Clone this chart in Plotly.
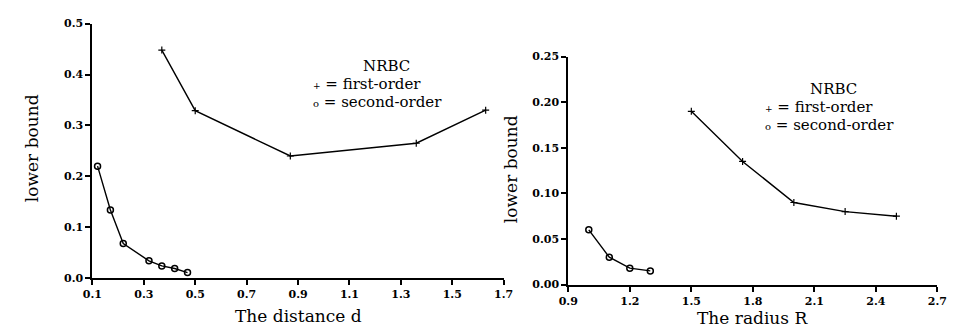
import plotly.graph_objects as go

# Left panel: lower bound vs distance d
d_first = [0.37, 0.50, 0.87, 1.36, 1.63]
lb_d_first = [0.448, 0.329, 0.240, 0.265, 0.330]
d_second = [0.12, 0.17, 0.22, 0.32, 0.37, 0.42, 0.47]
lb_d_second = [0.220, 0.134, 0.068, 0.034, 0.024, 0.019, 0.011]

# Right panel: lower bound vs radius R
r_first = [1.5, 1.75, 2.0, 2.25, 2.5]
lb_r_first = [0.190, 0.135, 0.090, 0.080, 0.075]
r_second = [1.0, 1.1, 1.2, 1.3]
lb_r_second = [0.060, 0.030, 0.018, 0.015]

left_xticks = [0.1, 0.3, 0.5, 0.7, 0.9, 1.1, 1.3, 1.5, 1.7]
left_yticks = [0.0, 0.1, 0.2, 0.3, 0.4, 0.5]
right_xticks = [0.9, 1.2, 1.5, 1.8, 2.1, 2.4, 2.7]
right_yticks = [0.00, 0.05, 0.10, 0.15, 0.20, 0.25]

SERIF = "DejaVu Serif"
W, H = 959, 330

fig = go.Figure()
line = dict(color="black", width=1.4)
plus = dict(symbol="cross-thin", size=5, line=dict(color="black", width=1.2))
ring = dict(symbol="circle-open", size=6, line=dict(color="black", width=1.5))
fig.add_trace(go.Scatter(x=d_first, y=lb_d_first, mode="lines+markers", line=line, marker=plus,
                         xaxis="x", yaxis="y", showlegend=False))
fig.add_trace(go.Scatter(x=d_second, y=lb_d_second, mode="lines+markers", line=line, marker=ring,
                         xaxis="x", yaxis="y", showlegend=False))
fig.add_trace(go.Scatter(x=r_first, y=lb_r_first, mode="lines+markers", line=line, marker=plus,
                         xaxis="x2", yaxis="y2", showlegend=False))
fig.add_trace(go.Scatter(x=r_second, y=lb_r_second, mode="lines+markers", line=line, marker=ring,
                         xaxis="x2", yaxis="y2", showlegend=False))

tickfont = dict(family=SERIF, size=11, color="black", weight="bold")
axcommon = dict(showgrid=False, zeroline=False, showline=True, linecolor="black", linewidth=2,
                ticks="outside", ticklen=5, tickwidth=1.5, tickcolor="black", tickfont=tickfont)

fig.update_layout(
    width=W, height=H,
    margin=dict(l=0, r=0, t=0, b=0),
    paper_bgcolor="white", plot_bgcolor="white",
    xaxis=dict(domain=[76 / W, 496 / W], range=[0.1, 1.7], tickvals=left_xticks,
               ticktext=[f"{v:.1f}" for v in left_xticks], anchor="y", **axcommon),
    yaxis=dict(domain=[(H - 275) / H, (H - 10) / H], range=[0, 0.5], tickvals=left_yticks,
               ticktext=[f"{v:.1f}" for v in left_yticks], anchor="x", **axcommon),
    xaxis2=dict(domain=[562 / W, 939 / W], range=[0.9, 2.7], tickvals=right_xticks,
                ticktext=[f"{v:.1f}" for v in right_xticks], anchor="y2", **axcommon),
    yaxis2=dict(domain=[(H - 281.7) / H, (H - 44.3) / H], range=[0, 0.25], tickvals=right_yticks,
                ticktext=[f"{v:.2f}" for v in right_yticks], anchor="x2", **axcommon),
)

ann = []
def txt(x, y, s, size=17, angle=0, xanchor="center"):
    ann.append(dict(x=x / W, y=1 - y / H, xref="paper", yref="paper", text=s, showarrow=False,
                    font=dict(family=SERIF, size=size, color="black"), textangle=angle,
                    xanchor=xanchor, yanchor="middle", borderpad=0))

# axis titles
txt(15, 140, "lower bound", angle=-90)
txt(286, 314, "The distance d")
txt(503, 162, "lower bound", angle=-90)
txt(750, 316, "The radius R")

# legend-like text blocks
small = '<span style="font-size:9px">+</span>'
circ = '<span style="font-size:10px">o</span>'
txt(376, 54, "NRBC", size=15)
txt(300, 73, small + " = first-order", size=15, xanchor="left")
txt(300, 92, circ + " = second-order", size=15, xanchor="left")
txt(833, 78, "NRBC", size=15)
txt(762, 97, small + " = first-order", size=15, xanchor="left")
txt(762, 116, circ + " = second-order", size=15, xanchor="left")

fig.update_layout(annotations=ann)
fig.write_html("out.html")
